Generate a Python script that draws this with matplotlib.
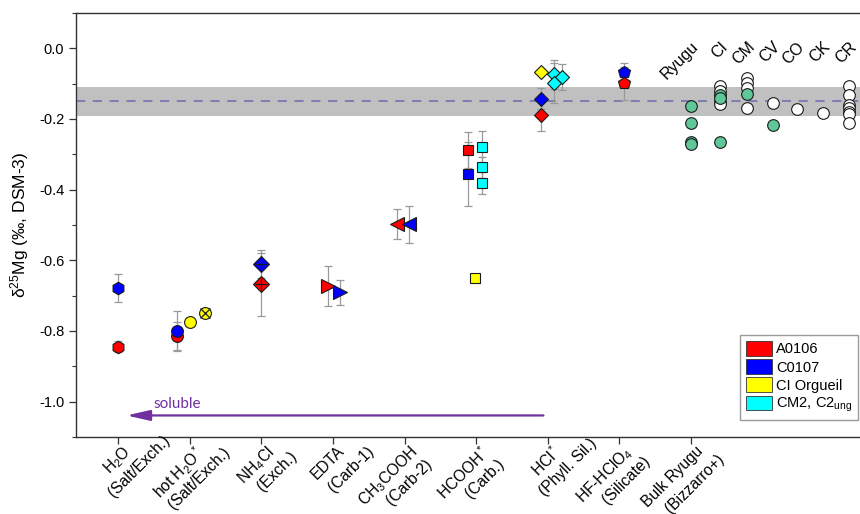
import matplotlib

matplotlib.use("Agg")
import matplotlib.pyplot as plt
from matplotlib import transforms
from matplotlib.patches import Patch
from matplotlib.ticker import MultipleLocator, FormatStrFormatter

plt.rcParams["font.family"] = ["Liberation Sans", "DejaVu Sans"]
plt.rcParams["mathtext.fontset"] = "custom"
plt.rcParams["mathtext.rm"] = "Liberation Sans"
plt.rcParams["mathtext.it"] = "Liberation Sans:italic"
plt.rcParams["mathtext.bf"] = "Liberation Sans:bold"
plt.rcParams["axes.unicode_minus"] = False

# leaching steps (x = 1..9)
STEP_TOP = ["H$_2$O", "hot H$_2$O$^*$", "NH$_4$Cl", "EDTA", "CH$_3$COOH",
            "HCOOH$^*$", "HCl$^*$", "HF-HClO$_4$", "Bulk Ryugu"]
STEP_BOTTOM = ["(Salt/Exch.)", "(Salt/Exch.)", "(Exch.)", "(Carb-1)", "(Carb-2)",
               "(Carb.)", "(Phyll. Sil.)", "(Silicate)", "(Bizzarro+)"]

# A0106
A0106_X = [1.00, 1.83, 3.00, 3.93, 4.89, 5.88, 6.90, 8.06]
A0106_Y = [-0.844, -0.814, -0.668, -0.673, -0.498, -0.288, -0.189, -0.099]
A0106_ERR = [0.015, 0.040, 0.090, 0.056, 0.042, 0.050, 0.045, 0.046]

# C0107
C0107_X = [1.00, 1.83, 3.00, 4.10, 5.06, 5.88, 6.90, 8.06]
C0107_Y = [-0.679, -0.800, -0.611, -0.690, -0.498, -0.356, -0.143, -0.066]
C0107_ERR = [0.040, 0.058, 0.040, 0.035, 0.052, 0.090, 0.030, 0.025]

# CI Orgueil
ORG_X = [2.00, 2.22, 5.98, 6.90]
ORG_Y = [-0.774, -0.748, -0.649, -0.066]
ORG_ERR = [0.0, 0.012, 0.0, 0.0]
ORG_CROSSED = [False, True, False, False]

# CM2, C2ung
CM2_X = [6.08, 6.08, 6.08, 7.09, 7.20, 7.09]
CM2_Y = [-0.279, -0.337, -0.381, -0.074, -0.080, -0.099]
CM2_ERR = [0.045, 0.030, 0.031, 0.040, 0.037, 0.057]

# bulk chondrite groups
GROUP_NAMES = ["Ryugu", "CI", "CM", "CV", "CO", "CK", "CR"]
GROUP_X = [9.00, 9.41, 9.78, 10.14, 10.48, 10.84, 11.21]
BULK_OPEN = [
    [],
    [-0.107, -0.120, -0.151, -0.158],
    [-0.085, -0.098, -0.112, -0.170],
    [-0.156],
    [-0.173],
    [-0.184],
    [-0.107, -0.132, -0.160, -0.170, -0.179, -0.186, -0.210],
]
BULK_GREEN = [
    [-0.162, -0.212, -0.264, -0.270],
    [-0.132, -0.140, -0.264],
    [-0.129],
    [-0.217],
    [], [], [],
]

TERRESTRIAL = -0.15
TERRESTRIAL_2SD = 0.041

SAMPLES = [
    ("A0106", "#ff0000", A0106_X, A0106_Y, A0106_ERR),
    ("C0107", "#0000ff", C0107_X, C0107_Y, C0107_ERR),
    ("CI Orgueil", "#ffff00", ORG_X, ORG_Y, ORG_ERR),
    ("CM2, C2$_{\\mathregular{ung}}$", "#00ffff", CM2_X, CM2_Y, CM2_ERR),
]

STEP_MARKER = {1: "h", 2: "o", 3: "D", 4: ">", 5: "<", 6: "s", 7: "D", 8: "p"}
MARKER_SIZE = {"h": 9, "o": 8.5, "D": 8.4, ">": 9.5, "<": 9.5, "s": 7.4, "p": 9.2}

FS = 10.5
FS_X = 11.2
PURPLE = "#7030a0"
GREEN = "#60c898"

fig = plt.figure(figsize=(8.6, 5.14), dpi=100)
ax = fig.add_axes([76 / 860, 77 / 514, 784 / 860, 424 / 514])

ax.axhspan(TERRESTRIAL - TERRESTRIAL_2SD, TERRESTRIAL + TERRESTRIAL_2SD,
           color="#c0c0c0", lw=0, zorder=0)
ax.axhline(TERRESTRIAL, color="#6b6bb0", lw=1.1, dashes=(6, 5), zorder=1)

for name, color, xs, ys, errs in SAMPLES:
    ax.errorbar(xs, ys, yerr=errs, fmt="none", ecolor="#9a9a9a", elinewidth=0.9,
                capsize=2.6, capthick=0.9, zorder=2)
    for i, (x, y) in enumerate(zip(xs, ys)):
        step = int(round(x))
        m = STEP_MARKER[step]
        ax.plot(x, y, marker=m, ms=MARKER_SIZE[m] - (0.8 if step == 7 else 0),
                mfc=color, mec="#1a1a1a", mew=0.8, ls="none", zorder=3)
        if step == 3:
            ax.plot(x, y, marker="+", ms=9, mec="#1a1a1a", mew=0.9, ls="none", zorder=4)
        if xs is ORG_X and ORG_CROSSED[i]:
            ax.plot(x, y, marker="x", ms=6.5, mec="#1a1a1a", mew=0.9, ls="none", zorder=4)

for gx, opens, greens in zip(GROUP_X, BULK_OPEN, BULK_GREEN):
    ax.plot([gx] * len(opens), opens, "o", ms=8.4, mfc="white", mec="#1a1a1a",
            mew=0.8, zorder=3)
    ax.plot([gx] * len(greens), greens, "o", ms=8.4, mfc=GREEN, mec="#1a1a1a",
            mew=0.8, zorder=4)

for gx, name in zip(GROUP_X, GROUP_NAMES):
    ax.text(gx + 0.15, -0.004, name, rotation=45, rotation_mode="anchor",
            ha="right", va="bottom", fontsize=11.5)

# soluble arrow
ax.annotate("", xy=(1.12, -1.039), xytext=(6.94, -1.039),
            arrowprops=dict(arrowstyle="-|>,head_length=1.4,head_width=0.32",
                            color=PURPLE, lw=1.6, mutation_scale=10,
                            shrinkA=0, shrinkB=0))
ax.text(1.49, -1.008, "soluble", color=PURPLE, fontsize=11, family="Lato",
        ha="left", va="center")

ax.set_xlim(0.413, 11.36)
ax.set_ylim(-1.1, 0.1)
ax.yaxis.set_major_locator(MultipleLocator(0.2))
ax.yaxis.set_minor_locator(MultipleLocator(0.1))
ax.yaxis.set_major_formatter(FormatStrFormatter("%.1f"))
ax.set_xticks(range(1, len(STEP_TOP) + 1))
ax.set_xticklabels([])
ax.tick_params(axis="both", direction="out", length=5, width=0.9, labelsize=FS,
               color="#333333")
ax.tick_params(axis="y", which="minor", direction="out", length=3, width=0.8,
               color="#333333")
ax.spines["right"].set_visible(False)
for side in ("left", "top", "bottom"):
    ax.spines[side].set_linewidth(1.0)
    ax.spines[side].set_color("#333333")

ax.set_ylabel("δ$^{25}$Mg (‰, DSM-3)", fontsize=12.5, labelpad=6)

# two-line rotated step labels: first line ends at the tick, second centred below
renderer = fig.canvas.get_renderer()
c = 0.7071
dx, dy = 4, -6
ls, shift = 21, 11
for i, (top, bottom) in enumerate(zip(STEP_TOP, STEP_BOTTOM)):
    x = i + 1
    tmp = fig.text(0, 0, top, fontsize=FS_X)
    w = tmp.get_window_extent(renderer).width
    tmp.remove()
    tr1 = transforms.offset_copy(ax.get_xaxis_transform(), fig=fig, x=dx, y=dy,
                                 units="dots")
    ax.text(x, 0, top, transform=tr1, rotation=45, rotation_mode="anchor",
            ha="right", va="top", fontsize=FS_X, clip_on=False)
    ox = dx + (shift - w / 2) * c + ls * c
    oy = dy + (shift - w / 2) * c - ls * c
    tr2 = transforms.offset_copy(ax.get_xaxis_transform(), fig=fig, x=ox, y=oy,
                                 units="dots")
    ax.text(x, 0, bottom, transform=tr2, rotation=45, rotation_mode="anchor",
            ha="center", va="top", fontsize=FS_X, clip_on=False)

handles = [Patch(facecolor=color, edgecolor="#333333", lw=0.6, label=name)
           for name, color, *_ in SAMPLES]
ax.legend(handles=handles, loc="lower right", bbox_to_anchor=(0.998, 94 / 514),
          bbox_transform=fig.transFigure, fontsize=FS, frameon=True, fancybox=False,
          edgecolor="#9a9a9a", framealpha=1, handlelength=1.8, handleheight=1.15,
          handletextpad=0.3, labelspacing=0.2, borderpad=0.4, borderaxespad=0)

fig.savefig("out.png", dpi=100)
plt.close(fig)
